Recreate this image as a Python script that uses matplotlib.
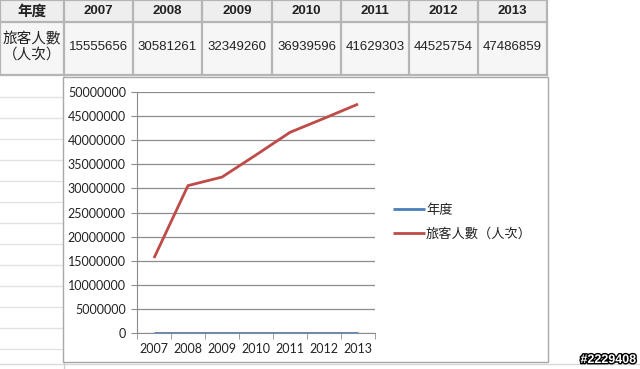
import matplotlib
matplotlib.use("Agg")
import matplotlib.pyplot as plt
from matplotlib.patches import Rectangle
from matplotlib.lines import Line2D
import matplotlib.patheffects as pe
from matplotlib.ticker import FixedLocator, FuncFormatter

years = ["2007", "2008", "2009", "2010", "2011", "2012", "2013"]
year_values = [2007, 2008, 2009, 2010, 2011, 2012, 2013]
passengers = [15555656, 30581261, 32349260, 36939596, 41629303, 44525754, 47486859]
row_label_year = "年度"
row_label_pass = "旅客人數\n（人次）"
legend_labels = ["年度", "旅客人數（人次）"]
y_ticks = [0, 5000000, 10000000, 15000000, 20000000, 25000000,
           30000000, 35000000, 40000000, 45000000, 50000000]

W, H = 640, 369
fig = plt.figure(figsize=(W / 100, H / 100), dpi=100)
fig.patch.set_facecolor("white")

cjk = ["Noto Sans CJK TC", "DejaVu Sans"]
arial = ["Liberation Sans", "Noto Sans CJK TC"]
calib = ["Lato", "Noto Sans CJK TC"]


def fx(x):
    return x / W


def fy(y):
    return 1 - y / H


def rect(x0, y0, x1, y1, fc, ec="none", lw=0, z=0):
    fig.patches.append(Rectangle((fx(x0), fy(y1)), fx(x1 - x0), (y1 - y0) / H,
                                 transform=fig.transFigure, facecolor=fc,
                                 edgecolor=ec, linewidth=lw, zorder=z))


def hline(y, x0, x1, c, lw=1, z=0):
    fig.add_artist(Line2D([fx(x0), fx(x1)], [fy(y), fy(y)], color=c, lw=lw,
                          transform=fig.transFigure, zorder=z))


def vline(x, y0, y1, c, lw=1, z=0):
    fig.add_artist(Line2D([fx(x), fx(x)], [fy(y0), fy(y1)], color=c, lw=lw,
                          transform=fig.transFigure, zorder=z))


# spreadsheet grid background (left of/below the chart)
for y in range(97, 369, 21):
    hline(y, 0, 64, "#e2e2e2", 1)
hline(364, 0, 640, "#d8d8d8", 1)
vline(64, 75, 369, "#d0d0d0", 1)

# table
col_edges = [0, 64, 133, 202, 272, 341, 409, 478, 547]
row_edges = [0, 22, 75]
rect(0, 0, 547, 22, "#eeeeee")
rect(0, 22, 547, 75, "#f6f6f6")
for x in col_edges:
    vline(x, 0, 75, "#b5b5b5", 1.6, 1)
for y in row_edges:
    hline(y, 0, 547, "#b5b5b5", 1.6, 1)

fig.text(fx(32), fy(11), row_label_year, ha="center", va="center",
         fontsize=10.5, family=cjk, fontweight="bold", color="#222222")
fig.text(fx(32), fy(47), row_label_pass, ha="center", va="center",
         fontsize=10.5, family=cjk, color="#222222", linespacing=1.05)
for i, (yr, v) in enumerate(zip(years, passengers)):
    cx = (col_edges[i + 1] + col_edges[i + 2]) / 2
    fig.text(fx(cx), fy(11), yr, ha="center", va="center", fontsize=9.5,
             family=arial, fontweight="bold", color="#222222")
    fig.text(fx(cx), fy(47), str(v), ha="center", va="center", fontsize=9.5,
             family=arial, color="#222222")

# chart frame
rect(63, 77, 548, 362, "white", "#a8a8a8", 1.0, 2)

ax = fig.add_axes([fx(137), 1 - 333 / H, 238 / W, 241 / H])
ax.set_zorder(3)
ax.patch.set_alpha(0)
x = list(range(len(years)))
ax.plot(x, year_values, color="#4a7ebb", lw=2.0, solid_capstyle="butt", label=legend_labels[0], zorder=3)
ax.plot(x, passengers, color="#be4b48", lw=2.0, solid_capstyle="butt", label=legend_labels[1], zorder=3)
ax.set_xlim(-0.5, len(years) - 0.5)
ax.set_ylim(0, 50000000)
ax.yaxis.set_major_locator(FixedLocator(y_ticks))
ax.yaxis.set_major_formatter(FuncFormatter(lambda v, p: f"{int(round(v))}"))
ax.yaxis.grid(True, color="#8c8c8c", lw=0.9)
ax.set_axisbelow(True)
ax.set_xticks(x)
ax.set_xticklabels(years)
ax.set_xticks([i - 0.5 for i in range(len(years) + 1)], minor=True)
ax.tick_params(axis="x", which="major", length=0, pad=7, labelsize=9, colors="#222222")
ax.tick_params(axis="x", which="minor", length=4, direction="out", color="#8c8c8c")
ax.tick_params(axis="y", length=4, direction="out", color="#8c8c8c", labelsize=9,
               labelcolor="#222222", pad=4)
for lab in ax.get_xticklabels() + ax.get_yticklabels():
    lab.set_family(calib)
for s in ["top", "right"]:
    ax.spines[s].set_visible(False)
ax.spines["left"].set_color("#8c8c8c")
ax.spines["bottom"].set_color("#8c8c8c")

leg = ax.legend(loc="center left", bbox_to_anchor=(fx(393), fy(222)),
                bbox_transform=fig.transFigure, frameon=False,
                prop={"family": cjk, "size": 9.5}, handlelength=2.4,
                handletextpad=0.1, labelspacing=0.8, borderaxespad=0, borderpad=0)
for t in leg.get_texts():
    t.set_color("#222222")

# watermark
fig.text(fx(636), fy(360), "#2229408", ha="right", va="center", fontsize=9,
         family=arial, fontweight="bold", color="white",
         path_effects=[pe.withStroke(linewidth=2, foreground="black")])

fig.savefig("out.png", dpi=100)
